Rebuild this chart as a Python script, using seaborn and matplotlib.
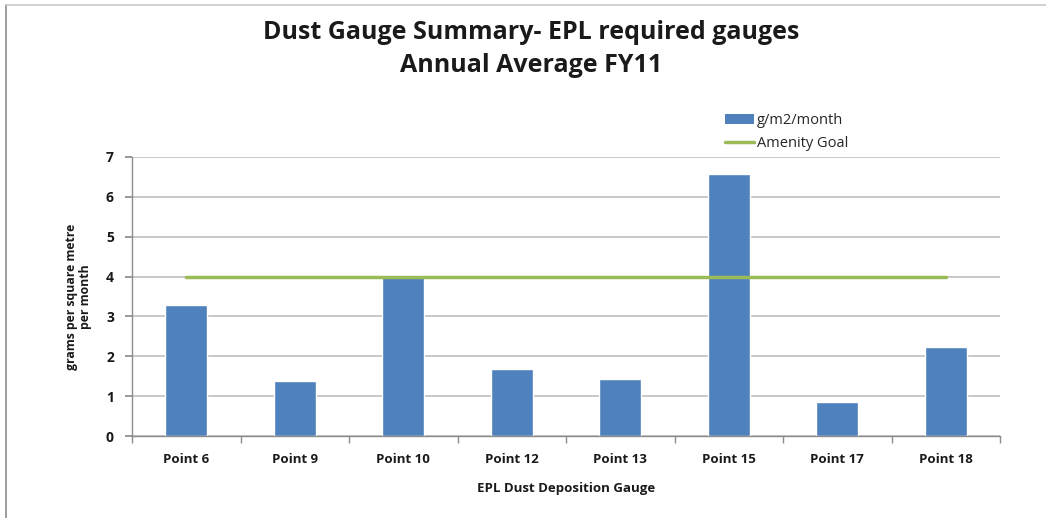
import matplotlib
matplotlib.use("Agg")
import matplotlib.pyplot as plt
import seaborn as sns
import pandas as pd
from matplotlib.lines import Line2D
from matplotlib.patches import Patch

categories = ["Point 6", "Point 9", "Point 10", "Point 12", "Point 13", "Point 15", "Point 17", "Point 18"]
values = [3.29, 1.37, 3.98, 1.67, 1.44, 6.57, 0.85, 2.24]
goal = [4, 4, 4, 4, 4, 4, 4, 4]

sns.set_theme(style="white")
plt.rcParams['font.family'] = ['Open Sans', 'DejaVu Sans']

W, H = 1046, 518
fig = plt.figure(figsize=(W / 100, H / 100), dpi=100)
ax = fig.add_axes([132 / W, 1 - 436 / H, (1000 - 132) / W, (436 - 157) / H])

df = pd.DataFrame({"cat": categories, "val": values, "goal": goal})
sns.barplot(data=df, x="cat", y="val", color="#4F81BD", width=0.39, saturation=1, ax=ax, zorder=2)
sns.lineplot(data=df, x="cat", y="goal", color="#9BBB59", linewidth=2.5, ax=ax, zorder=3, sort=False)

ax.set_xlim(-0.5, len(categories) - 0.5)
ax.set_ylim(0, 7)
ax.set_yticks(range(0, 8))
ax.yaxis.grid(True, color="#BFBFBF", linewidth=1.2, zorder=0)
ax.set_axisbelow(True)
for s in ["top", "right"]:
    ax.spines[s].set_visible(False)
for s in ["left", "bottom"]:
    ax.spines[s].set_color("#8C8C8C")
    ax.spines[s].set_linewidth(1)

ax.tick_params(axis="y", which="major", length=5, color="#8C8C8C", direction="out", left=True, labelsize=10, pad=8)
ax.tick_params(axis="x", which="major", length=0, labelsize=9.5, pad=12)
ax.set_xticks([i - 0.5 for i in range(len(categories) + 1)], minor=True)
ax.tick_params(axis="x", which="minor", length=5, color="#8C8C8C", direction="out", bottom=True)
for lbl in ax.get_xticklabels() + ax.get_yticklabels():
    lbl.set_fontweight("bold")
    lbl.set_color("#1a1a1a")

ax.set_xlabel("EPL Dust Deposition Gauge", fontsize=9.5, fontweight="bold", labelpad=12, color="#1a1a1a")
ax.set_ylabel("grams per square metre\nper month", fontsize=8.8, fontweight="bold", labelpad=10, color="#1a1a1a", linespacing=1.1)

fig.text(531 / W, 1 - 49 / H, "Dust Gauge Summary- EPL required gauges\nAnnual Average FY11",
         ha="center", va="center", fontsize=18, fontweight="bold", color="#1a1a1a", linespacing=1.38)

handles = [Patch(facecolor="#4F81BD", edgecolor="none"),
           Line2D([0], [0], color="#9BBB59", linewidth=2.5)]
fig.legend(handles, ["g/m2/month", "Amenity Goal"], loc="upper left",
           bbox_to_anchor=(712 / W, 1 - 100 / H), frameon=False, fontsize=10.5,
           handlelength=2.0, handletextpad=0.2, labelspacing=0.55)

# chart border lines (left and top)
fig.add_artist(Line2D([6 / W, 6 / W], [0, 1 - 5 / H], color="#8C8C8C", linewidth=1.2, transform=fig.transFigure))
fig.add_artist(Line2D([6 / W, 1], [1 - 5 / H, 1 - 5 / H], color="#C8C8C8", linewidth=1.2, transform=fig.transFigure))

fig.savefig("out.png", dpi=100)
